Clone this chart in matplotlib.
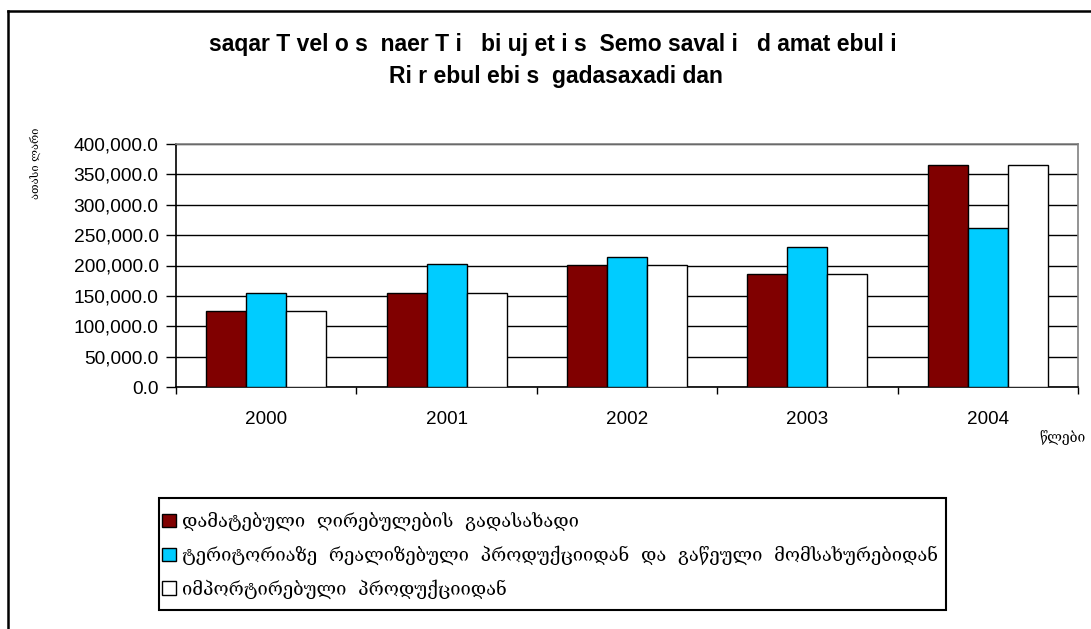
import matplotlib
matplotlib.use("Agg")
import matplotlib.pyplot as plt
from matplotlib.lines import Line2D
from matplotlib.patches import Patch, Rectangle
from matplotlib.ticker import FuncFormatter, FixedLocator

# data
years = ["2000", "2001", "2002", "2003", "2004"]
vat_total = [125500, 155000, 201000, 186000, 366000]
vat_domestic = [154000, 202000, 214500, 230500, 261500]
vat_import = [125500, 155000, 201000, 186000, 366000]

series_labels = [
    "დამატებული  ღირებულების  გადასახადი",
    "ტერიტორიაზე  რეალიზებული  პროდუქციიდან  და  გაწეული  მომსახურებიდან",
    "იმპორტირებული  პროდუქციიდან",
]
series_colors = ["#800000", "#00CCFF", "#FFFFFF"]

title_lines = [
    "saqar T vel o s  naer T i   bi uj et i s  Semo saval i   d amat ebul i",
    "Ri r ebul ebi s  gadasaxadi dan",
]
ylabel = "ათასი ლარი"
xlabel = "წლები"

plt.rcParams["font.family"] = ["Liberation Sans", "DejaVu Sans"]
geo_font = ["DejaVu Serif", "DejaVu Sans"]

W, H = 1091, 629
fig = plt.figure(figsize=(W / 100, H / 100), dpi=100)
ax = fig.add_axes([176 / W, 1 - 387 / H, (1078 - 176) / W, (387 - 144) / H])

x = list(range(len(years)))
bw = 0.222
for i, (vals, col) in enumerate(zip([vat_total, vat_domestic, vat_import], series_colors)):
    pos = [p + (i - 1) * bw for p in x]
    ax.bar(pos, vals, width=bw, color=col, edgecolor="black", linewidth=1.0, zorder=3)

ax.set_xlim(-0.5, len(years) - 0.5)
ax.set_ylim(0, 400000)
ax.set_yticks(range(0, 400001, 50000))
ax.yaxis.set_major_formatter(FuncFormatter(lambda v, p: f"{v:,.1f}"))
ax.grid(axis="y", color="black", linewidth=1.0, zorder=1)
ax.set_axisbelow(True)

ax.set_xticks(x)
ax.set_xticklabels(years)
ax.xaxis.set_minor_locator(FixedLocator([p - 0.5 for p in range(len(years) + 1)]))
ax.tick_params(axis="x", which="major", length=0, pad=17, labelsize=13.6)
ax.tick_params(axis="x", which="minor", length=5, width=1.0, direction="out", color="black")
ax.tick_params(axis="y", length=7, width=1.0, direction="out", pad=5.5, labelsize=13.8)

for s in ["left", "bottom"]:
    ax.spines[s].set_color("black")
    ax.spines[s].set_linewidth(1.2)
for s in ["top", "right"]:
    ax.spines[s].set_color("#808080")
    ax.spines[s].set_linewidth(1.2)

# title (legacy font encoding text, shown as latin letters)
fig.text(553 / W, 1 - 45 / H, title_lines[0], ha="center", va="center",
         fontsize=16.5, fontweight="bold")
fig.text(556 / W, 1 - 77 / H, title_lines[1], ha="center", va="center",
         fontsize=16.5, fontweight="bold")

fig.text(35 / W, 1 - 163 / H, ylabel, rotation=90, ha="center", va="center",
         fontsize=8, family=geo_font)
fig.text(1062 / W, 1 - 438 / H, xlabel, ha="center", va="center",
         fontsize=10, family=geo_font)

# legend: frame drawn separately so padding can match
fig.add_artist(Rectangle((159 / W, 1 - 610 / H), (946 - 159) / W, (610 - 498) / H,
                         transform=fig.transFigure, facecolor="white",
                         edgecolor="black", linewidth=1.5, zorder=2))
handles = [Patch(facecolor=c, edgecolor="black", linewidth=1.0) for c in series_colors]
leg = fig.legend(handles, series_labels, loc="upper left",
                 bbox_to_anchor=(162 / W, 1 - 512 / H), borderaxespad=0,
                 prop={"family": geo_font, "size": 13.2},
                 handlelength=0.75, handleheight=0.75, handletextpad=0.35,
                 labelspacing=0.78, borderpad=0, frameon=False)
leg.set_zorder(3)

# outer chart frame (top and left visible)
fig.add_artist(Line2D([8 / W, 1.0], [1 - 11 / H, 1 - 11 / H], color="black", linewidth=1.8))
fig.add_artist(Line2D([8 / W, 8 / W], [0, 1 - 11 / H], color="black", linewidth=1.8))

fig.savefig("out.png", dpi=100)
